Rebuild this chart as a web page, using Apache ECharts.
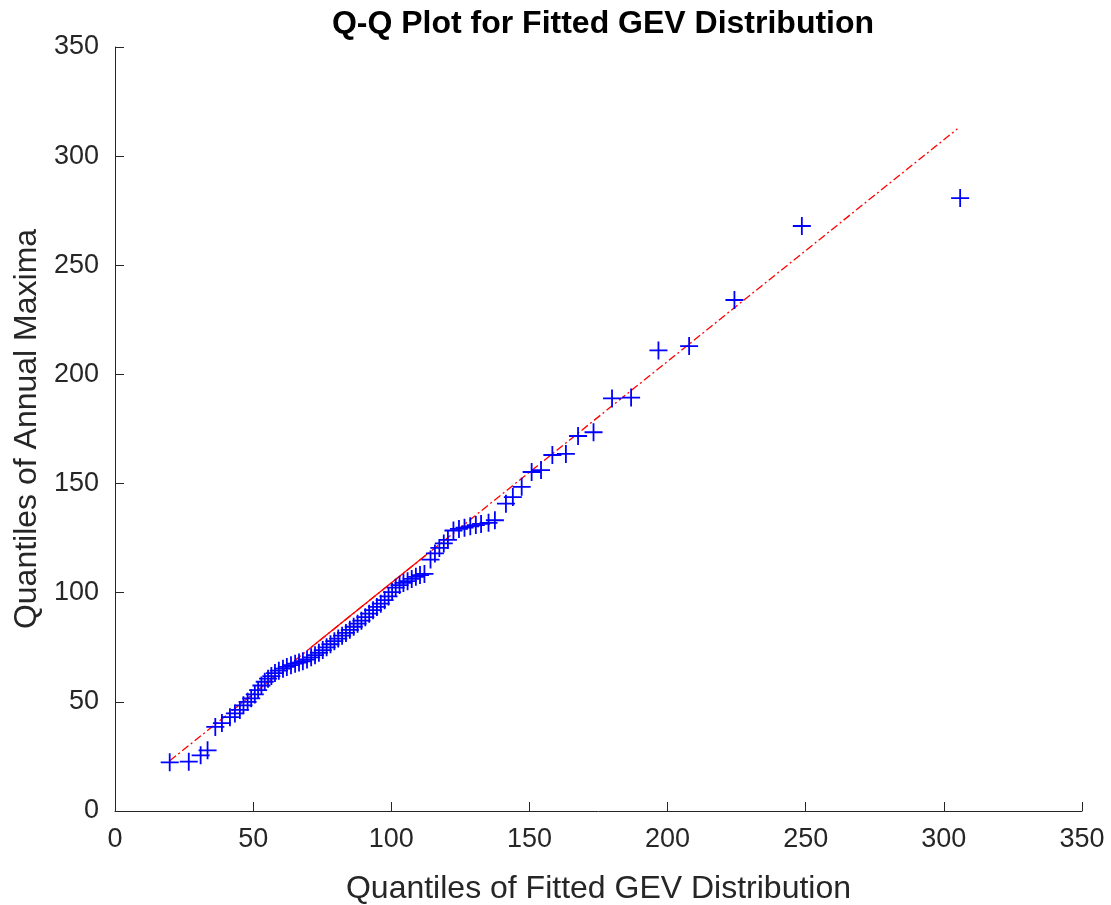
<!DOCTYPE html>
<html>
<head>
<meta charset="utf-8">
<script src="https://cdn.jsdelivr.net/npm/echarts@6/dist/echarts.min.js"></script>
<style>
  html, body { margin: 0; padding: 0; background: #ffffff; }
  #chart { width: 1111px; height: 905px; }
</style>
</head>
<body>
<div id="chart"></div>
<script>
// Fitted GEV quantiles (x) against sorted annual maxima (y)
const fittedQuantiles = [
  19.8, 26.7, 31.0, 33.5, 36.3, 38.7, 41.6, 43.4, 45.2, 46.5,
  48.0, 49.3, 50.6, 51.8, 53.0, 54.2, 55.4, 56.6, 57.9, 59.3,
  60.8, 62.2, 63.7, 65.2, 66.6, 68.0, 69.5, 71.0, 72.4, 73.8,
  75.2, 76.6, 78.0, 79.4, 80.8, 82.2, 83.6, 85.0, 86.4, 87.8,
  89.2, 90.6, 92.0, 93.4, 94.8, 96.2, 97.6, 99.0, 100.3, 101.6,
  103.0, 104.4, 105.9, 107.4, 108.9, 110.4, 112.0, 114.2, 115.8, 117.4,
  119.0, 120.5, 122.5, 124.5, 126.5, 128.6, 130.6, 132.5, 135.2, 137.5,
  141.5, 144.0, 147.2, 150.8, 154.2, 158.3, 163.2, 167.6, 173.2, 179.9,
  186.8, 196.7, 207.8, 224.2, 248.6, 305.9
];
const annualMaxima = [
  22.3, 22.6, 25.5, 27.8, 38.5, 40.3, 43.0, 44.7, 46.3, 48.4,
  50.0, 51.6, 53.4, 55.4, 57.5, 59.2, 60.6, 61.8, 63.2, 64.3,
  65.2, 66.0, 66.8, 67.5, 68.0, 68.6, 69.4, 70.4, 71.4, 72.5,
  73.7, 75.0, 76.4, 77.8, 79.0, 80.3, 81.6, 83.0, 84.4, 85.8,
  87.2, 88.8, 90.4, 92.0, 93.5, 95.0, 96.6, 98.3, 100.3, 102.3,
  103.5, 104.5, 105.3, 106.3, 107.3, 108.1, 108.6, 115.2, 118.0, 120.5,
  122.6, 124.2, 128.5, 129.2, 129.8, 130.4, 131.0, 131.5, 132.0, 133.2,
  140.8, 143.8, 148.5, 155.3, 156.2, 163.1, 163.6, 171.8, 173.5, 189.0,
  189.4, 211.0, 213.0, 234.1, 268.0, 280.8
];

// Reference line: full extent (dash-dot) and the inter-quartile part (solid)
const refLineX = [19.8, 304.9];
const refLineY = [23.0, 312.5];
const quartileX = [71.0, 113.0];
const quartileY = [75.0, 117.7];

// Axis ticks
const xTicks = [0, 50, 100, 150, 200, 250, 300, 350];
const yTicks = [0, 50, 100, 150, 200, 250, 300, 350];

const FONT = '"Liberation Sans", Arial, Helvetica, sans-serif';
const AXIS_COLOR = '#262626';

const points = fittedQuantiles.map((x, i) => [x, annualMaxima[i]]);
const fullLine = refLineX.map((x, i) => [x, refLineY[i]]);
const quartileLine = quartileX.map((x, i) => [x, quartileY[i]]);

const chart = echarts.init(document.getElementById('chart'), null, { renderer: 'canvas' });

function axisCommon(ticks, name, gap, labelMargin) {
  return {
    type: 'value',
    min: ticks[0],
    max: ticks[ticks.length - 1],
    interval: ticks[1] - ticks[0],
    name: name,
    nameLocation: 'middle',
    nameGap: gap,
    nameTextStyle: { fontFamily: FONT, fontSize: 32, color: AXIS_COLOR },
    axisLine: { show: true, lineStyle: { color: AXIS_COLOR, width: 1 } },
    axisTick: { show: true, inside: true, length: 9, lineStyle: { color: AXIS_COLOR, width: 1 } },
    axisLabel: { fontFamily: FONT, fontSize: 27, color: AXIS_COLOR, margin: labelMargin },
    splitLine: { show: false }
  };
}

chart.setOption({
  backgroundColor: '#ffffff',
  animation: false,
  title: {
    text: 'Q-Q Plot for Fitted GEV Distribution',
    left: 598,
    textAlign: 'center',
    top: 3,
    textStyle: { fontFamily: FONT, fontSize: 32, fontWeight: 'bold', color: '#000000' }
  },
  grid: {
    left: 115, right: 29, top: 47, bottom: 94,
    containLabel: false,
    outerBoundsMode: 'none'
  },
  xAxis: axisCommon(xTicks, 'Quantiles of Fitted GEV Distribution', 62, 15),
  yAxis: axisCommon(yTicks, 'Quantiles of Annual Maxima', 72, 16),
  series: [
    {
      type: 'line',
      data: fullLine,
      symbol: 'none',
      silent: true,
      lineStyle: { color: '#ff0000', width: 1.3, type: [8, 3, 2, 3] },
      z: 2
    },
    {
      type: 'line',
      data: quartileLine,
      symbol: 'none',
      silent: true,
      lineStyle: { color: '#ff0000', width: 1.3, type: 'solid' },
      z: 3
    },
    {
      type: 'scatter',
      data: points,
      symbol: 'path://M9,0h2v9h9v2h-9v9h-2v-9h-9v-2h9z',
      symbolSize: 18,
      itemStyle: { color: '#0000ff', opacity: 1 },
      z: 4
    }
  ]
});
</script>
</body>
</html>
